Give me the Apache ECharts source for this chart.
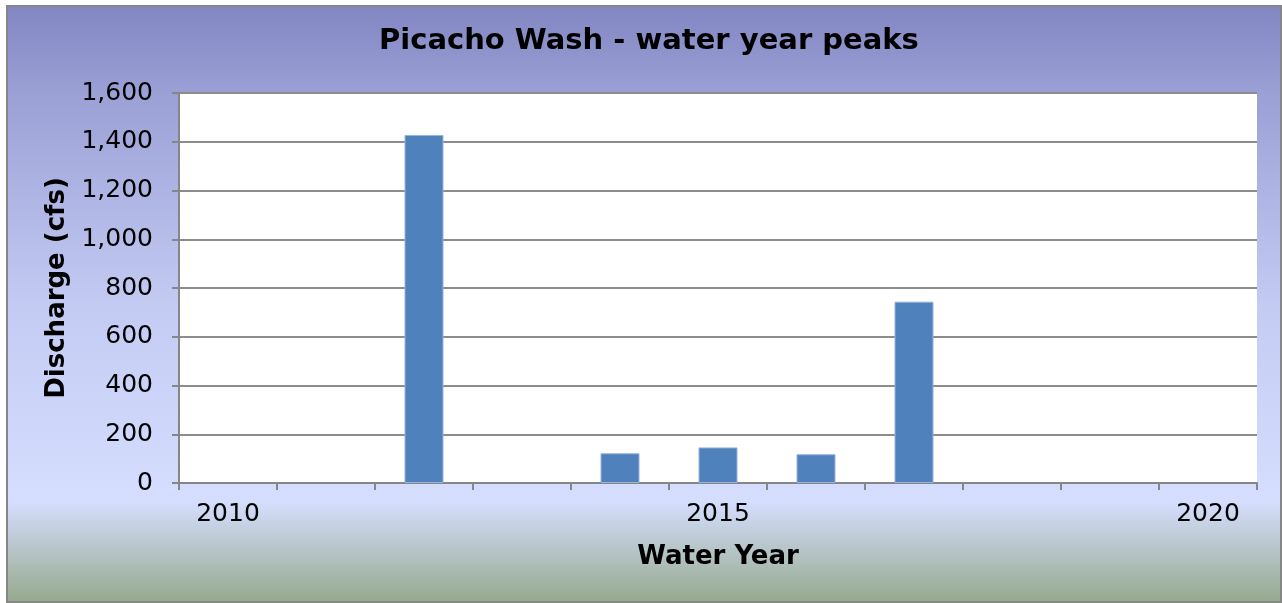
<!DOCTYPE html>
<html>
<head>
<meta charset="utf-8">
<script src="https://cdn.jsdelivr.net/npm/echarts@6/dist/echarts.min.js"></script>
<style>
html,body{margin:0;padding:0;background:#fff;}
#chart{width:1282px;height:603px;}
</style>
</head>
<body>
<div id="chart"></div>
<script>
var years = ['2010','2011','2012','2013','2014','2015','2016','2017','2018','2019','2020'];
var peaks = [null, null, 1428, null, 122, 146, 118, 744, null, null, null];
var yTicks = [0, 200, 400, 600, 800, 1000, 1200, 1400, 1600];
var titleText = 'Picacho Wash - water year peaks';
var xName = 'Water Year';
var yName = 'Discharge (cfs)';

var chart = echarts.init(document.getElementById('chart'), null, {renderer: 'canvas'});
var font = 'DejaVu Sans';
chart.setOption({
  animation: false,
  backgroundColor: '#ffffff',
  graphic: [{
    type: 'rect',
    z: -100,
    silent: true,
    shape: {x: 7, y: 6, width: 1274, height: 596},
    style: {
      fill: new echarts.graphic.LinearGradient(0, 0, 0, 1, [
        {offset: 0, color: '#8286c2'},
        {offset: 0.15, color: '#9ba0d5'},
        {offset: 0.5, color: '#c3cbf3'},
        {offset: 0.83, color: '#d5defe'},
        {offset: 1, color: '#95a98c'}
      ]),
      stroke: '#868686',
      lineWidth: 2
    }
  }],
  title: {
    text: titleText,
    left: 374,
    top: 22,
    textStyle: {fontFamily: font, fontWeight: 'bold', fontSize: 29, color: '#000'}
  },
  grid: {
    left: 179, right: 25, top: 93, bottom: 120,
    show: false
  },
  xAxis: {
    type: 'category',
    data: years,
    boundaryGap: true,
    name: xName,
    nameLocation: 'middle',
    nameGap: 61,
    nameTextStyle: {fontFamily: font, fontWeight: 'bold', fontSize: 26, color: '#000'},
    axisLine: {show: true, lineStyle: {color: '#868686', width: 2}},
    axisTick: {show: true, interval: 0, length: 7, lineStyle: {color: '#868686', width: 2}},
    axisLabel: {interval: 4, margin: 19, fontFamily: font, fontSize: 25, color: '#000'},
    splitLine: {show: false}
  },
  yAxis: {
    type: 'value',
    min: yTicks[0],
    max: yTicks[yTicks.length - 1],
    interval: yTicks[1] - yTicks[0],
    name: yName,
    nameLocation: 'middle',
    nameGap: 108,
    nameRotate: 90,
    nameTextStyle: {fontFamily: font, fontWeight: 'bold', fontSize: 26, color: '#000'},
    axisLine: {show: true, lineStyle: {color: '#868686', width: 2}},
    axisTick: {show: true, length: 7, lineStyle: {color: '#868686', width: 2}},
    axisLabel: {
      margin: 26, fontFamily: font, fontSize: 25, color: '#000',
      formatter: function (v) { return v.toLocaleString('en-US'); }
    },
    splitLine: {show: true, lineStyle: {color: '#8c8c8c', width: 2}},
    splitArea: {show: true, areaStyle: {color: ['#ffffff', '#ffffff']}}
  },
  series: [{
    type: 'bar',
    data: peaks,
    barWidth: 39,
    itemStyle: {color: '#4f81bd', borderColor: '#9bb3d8', borderWidth: 1}
  }]
});
</script>
</body>
</html>
